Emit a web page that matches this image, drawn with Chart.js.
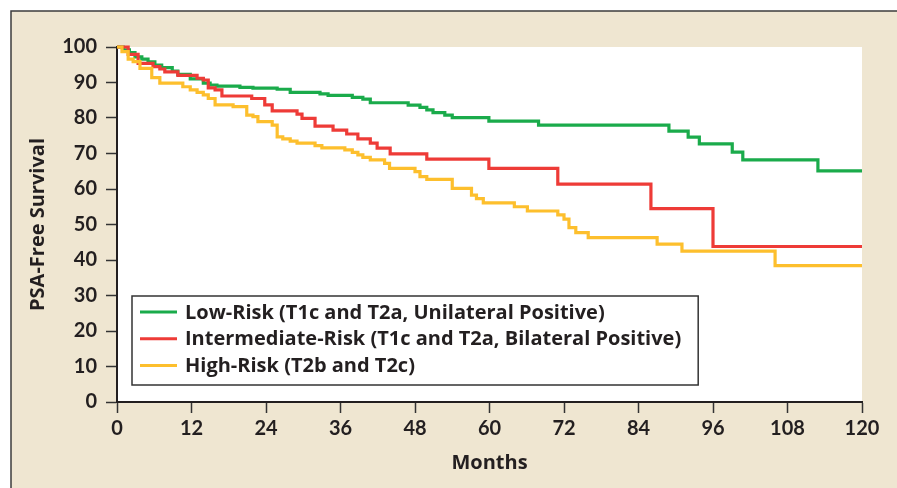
<!DOCTYPE html>
<html><head><meta charset="utf-8">
<script src="https://cdn.jsdelivr.net/npm/chart.js@4.4.0/dist/chart.umd.min.js"></script>
<style>html,body{margin:0;padding:0;background:#fff;overflow:hidden}</style>
</head><body>
<canvas id="c" width="897" height="488" style="display:block;width:897px;height:488px"></canvas>
<script>
// ---- data ----
const seriesLabels = [
  'Low-Risk (T1c and T2a, Unilateral Positive)',
  'Intermediate-Risk (T1c and T2a, Bilateral Positive)',
  'High-Risk (T2b and T2c)'
];
const seriesColors = ['#1aab4b', '#ee3b37', '#fdbf2d'];
const xTicks = [0, 12, 24, 36, 48, 60, 72, 84, 96, 108, 120];
const yTicks = [0, 10, 20, 30, 40, 50, 60, 70, 80, 90, 100];

const lowMonths = [0, 1, 2, 2.9, 4, 5, 6.1, 7.2, 8.9, 9.8, 11.8, 13.9, 15, 16.1, 19.8, 21.9, 25.8, 27.9, 32.7, 34, 37.9, 39.6, 40.8, 46.9, 48.8, 49.9, 50.9, 52.8, 54, 59.9, 67.9, 88.9, 92, 93.8, 99.1, 100.8, 112.9, 120];
const lowSurv   = [100, 99.2, 98.4, 97.2, 96.6, 95.8, 94.9, 94.2, 93.2, 92.3, 91, 89.8, 89.3, 89, 88.6, 88.4, 88.1, 87.2, 86.8, 86.4, 85.8, 85.3, 84.3, 83.6, 83, 82.3, 81.5, 80.8, 80.1, 79.1, 78, 76.3, 74.6, 72.7, 70.4, 68.2, 65.1, 65.1];

const midMonths = [0, 1.8, 3.4, 5.8, 6.9, 7.7, 9.8, 12.9, 13.9, 14.7, 15.8, 16.9, 21.7, 23.8, 25, 29, 29.8, 31.9, 34.8, 37, 38.8, 40.8, 41.9, 44, 49.9, 59.9, 71, 86, 96, 120];
const midSurv   = [100, 97.9, 95.4, 94.5, 93.8, 93, 92, 91.2, 90.7, 88.5, 87.9, 86.2, 85.5, 83.7, 82, 81.1, 79.9, 77.7, 76.6, 75.5, 74.1, 72.9, 71.5, 69.9, 68.4, 65.8, 61.4, 54.5, 43.8, 43.8];

const highMonths = [0, 0.8, 1.8, 2.6, 3.7, 5.6, 6.9, 10.6, 11.8, 12.9, 13.9, 14.7, 15.8, 18.7, 20.9, 21.9, 22.7, 25, 25.8, 26.7, 27.9, 29, 31.9, 33, 36.7, 37.9, 38.8, 39.6, 40.8, 43.1, 43.9, 48, 48.8, 49.9, 54, 57.1, 57.9, 59, 64, 66.1, 71, 72, 72.8, 73.9, 75.9, 87, 91, 106, 120];
const highSurv   = [100, 98.7, 96.6, 95.9, 94, 91.4, 89.8, 88.8, 87.9, 87.2, 86.5, 85.5, 83.7, 83.2, 80.8, 80.4, 79, 78, 74.7, 74.1, 73.5, 72.9, 72.2, 71.6, 71, 70.3, 69.6, 68.9, 68.2, 67.2, 65.8, 64.9, 63.5, 62.7, 60.2, 58.3, 57.3, 56.1, 55, 53.8, 52.7, 51.5, 49.1, 47.7, 46.3, 44.5, 42.5, 38.4, 38.4];

// ---- chart ----
const TEXT = '#231f20';
const FONT = 'Lato';
const FONT2 = '"Open Sans"';
const toPts = (xs, ys) => xs.map((x, i) => ({x: x, y: ys[i]}));
const seriesData = [toPts(lowMonths, lowSurv), toPts(midMonths, midSurv), toPts(highMonths, highSurv)];

const backgroundPlugin = {
  id: 'bg',
  beforeDraw(chart) {
    const ctx = chart.ctx, W = chart.width, H = chart.height, a = chart.chartArea;
    ctx.save();
    ctx.fillStyle = '#ffffff';
    ctx.fillRect(0, 0, W, H);
    ctx.fillStyle = '#efe6d1';
    ctx.fillRect(11, 11, W - 11, H - 11);
    ctx.strokeStyle = '#3c3c3c';
    ctx.lineWidth = 1.5;
    ctx.beginPath();
    ctx.moveTo(11, H); ctx.lineTo(11, 11); ctx.lineTo(W, 11);
    ctx.stroke();
    ctx.fillStyle = '#ffffff';
    ctx.fillRect(a.left, a.top, a.right - a.left, a.bottom - a.top);
    ctx.restore();
  }
};

const legendPlugin = {
  id: 'boxLegend',
  afterDatasetsDraw(chart) {
    const ctx = chart.ctx, a = chart.chartArea;
    ctx.save();
    ctx.font = 'bold 20px ' + FONT2;
    const left = a.left + 15, top = 296, rowH = 26.7;
    const textX = left + 53;
    let maxW = 0;
    seriesLabels.forEach(l => { maxW = Math.max(maxW, ctx.measureText(l).width); });
    const right = textX + maxW + 17;
    const bottom = top + 89;
    ctx.fillStyle = '#ffffff';
    ctx.fillRect(left, top, right - left, bottom - top);
    ctx.strokeStyle = '#333333';
    ctx.lineWidth = 1.5;
    ctx.strokeRect(left, top, right - left, bottom - top);
    seriesLabels.forEach((l, i) => {
      const y = top + 16 + i * rowH;
      ctx.strokeStyle = seriesColors[i];
      ctx.lineWidth = 3;
      ctx.beginPath(); ctx.moveTo(left + 8, y); ctx.lineTo(left + 45, y); ctx.stroke();
      ctx.fillStyle = TEXT;
      ctx.textBaseline = 'middle';
      ctx.textAlign = 'left';
      ctx.fillText(l, textX, y + 1);
    });
    ctx.restore();
  }
};

new Chart(document.getElementById('c'), {
  type: 'line',
  data: {
    datasets: seriesData.map((d, i) => ({
      label: seriesLabels[i],
      data: d,
      borderColor: seriesColors[i],
      backgroundColor: seriesColors[i],
      borderWidth: 3.2,
      pointRadius: 0,
      stepped: 'before',
      fill: false,
      clip: 4,
      order: 3 - i
    }))
  },
  options: {
    responsive: false,
    animation: false,
    devicePixelRatio: 1,
    layout: { padding: { left: 0, top: 47, right: 35, bottom: 0 } },
    plugins: { legend: { display: false }, tooltip: { enabled: false } },
    scales: {
      x: {
        type: 'linear', min: 0, max: 120,
        afterBuildTicks: s => { s.ticks = xTicks.map(v => ({value: v})); },
        afterFit: s => { s.height = 86; },
        grid: { drawOnChartArea: false, drawTicks: true, tickLength: 11, tickColor: '#333', tickWidth: 1.5 },
        border: { display: true, color: '#231f20', width: 2 },
        ticks: { color: TEXT, font: { family: FONT, size: 20, weight: 'bold' }, padding: 4, maxRotation: 0 },
        title: { display: true, text: 'Months', color: TEXT, font: { family: FONT2, size: 20, weight: 'bold' }, padding: { top: 0, bottom: 13 } }
      },
      y: {
        type: 'linear', min: 0, max: 100,
        afterBuildTicks: s => { s.ticks = yTicks.map(v => ({value: v})); },
        afterFit: s => { s.width = 117; },
        grid: { drawOnChartArea: false, drawTicks: true, tickLength: 11, tickColor: '#333', tickWidth: 1.5 },
        border: { display: true, color: '#231f20', width: 2 },
        ticks: { color: TEXT, font: { family: FONT, size: 20, weight: 'bold' }, padding: 9 },
        title: { display: true, text: 'PSA-Free Survival', color: TEXT, font: { family: FONT2, size: 20, weight: 'bold' }, padding: { top: 26, bottom: 0 } }
      }
    }
  },
  plugins: [backgroundPlugin, legendPlugin]
});
</script>
</body></html>
